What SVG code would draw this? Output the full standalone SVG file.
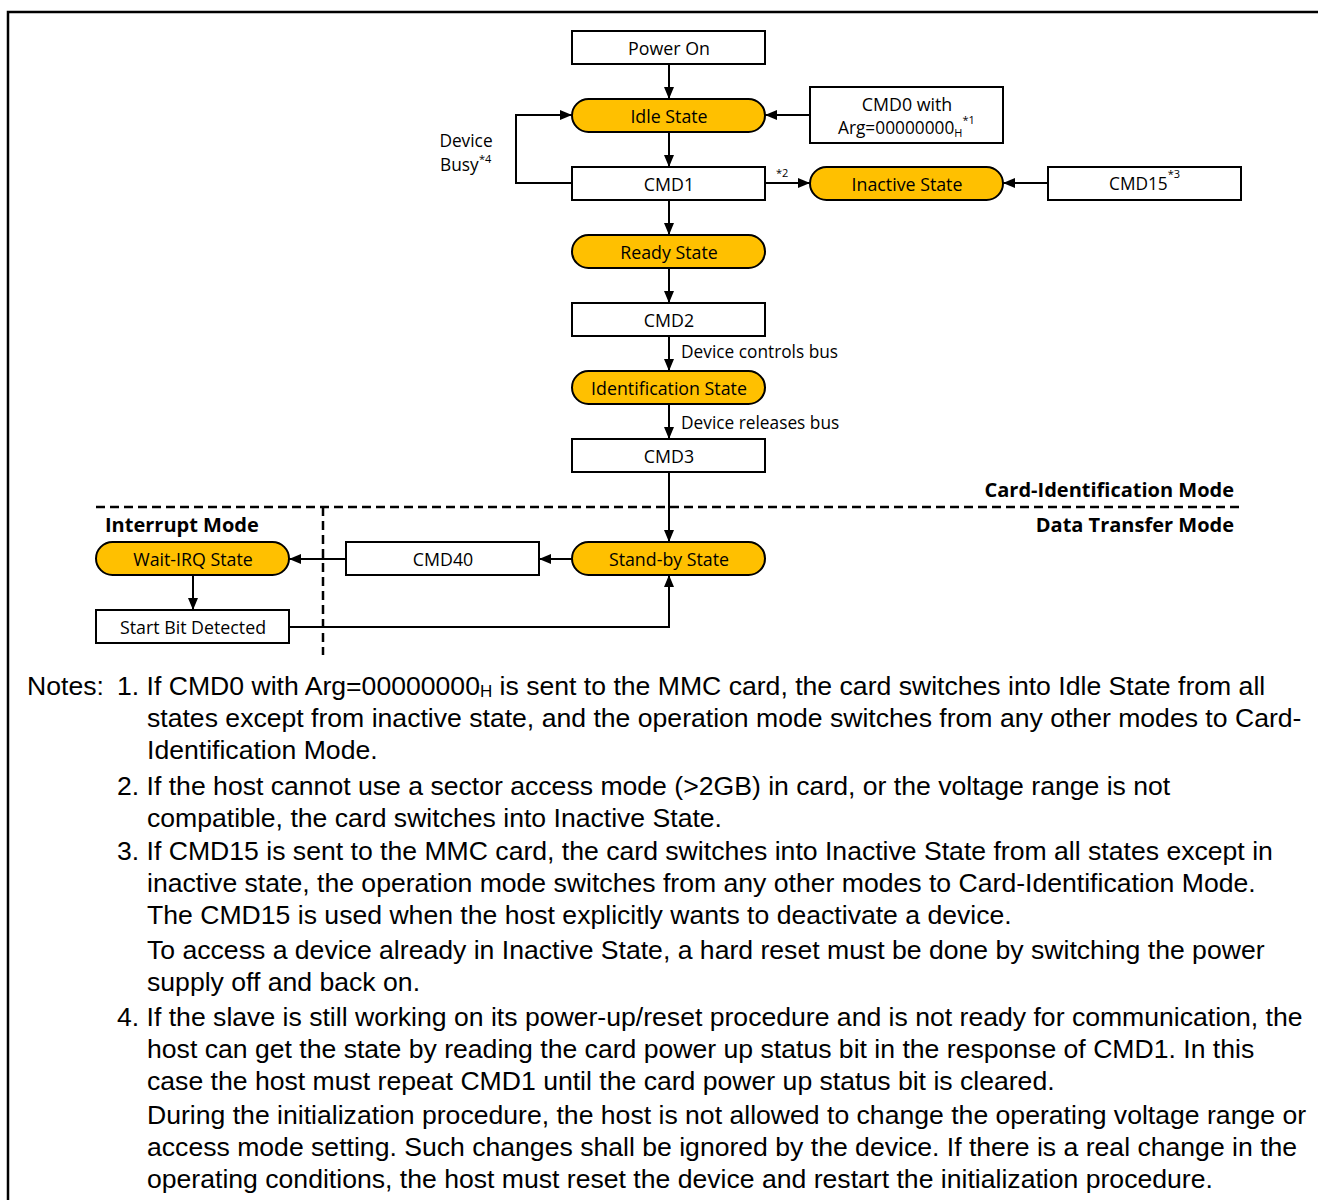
<svg xmlns="http://www.w3.org/2000/svg" width="1318" height="1200" viewBox="0 0 1318 1200">
<defs>
<marker id="ah" viewBox="0 0 12 10" refX="12" refY="5" markerWidth="12" markerHeight="10" markerUnits="userSpaceOnUse" orient="auto">
<path d="M0,0 L12,5 L0,10 z" fill="#000"/>
</marker>
</defs>
<style>
.box{fill:#fff;stroke:#000;stroke-width:2}
.st{fill:#FFC000;stroke:#000;stroke-width:2}
.lbl{font-family:"Open Sans",sans-serif;font-size:17.8px;fill:#000;text-anchor:middle;dominant-baseline:central}
.sm{font-family:"Open Sans",sans-serif;font-size:17.3px;fill:#000}
.sup{font-family:"Open Sans",sans-serif;font-size:11px;fill:#000}
.bold{font-family:"Open Sans",sans-serif;font-size:20px;font-weight:bold;fill:#000}
.con{fill:none;stroke:#000;stroke-width:2;marker-end:url(#ah)}
.dash{fill:none;stroke:#000;stroke-width:2.5;stroke-dasharray:9,5}
.note{font-family:"Liberation Sans",Arial,sans-serif;font-size:26.6px;fill:#000}
</style>
<rect x="8" y="12" width="1320" height="1200" fill="none" stroke="#000" stroke-width="2.5"/>

<g id="connectors">
<path class="con" d="M669,64 V99"/>
<path class="con" d="M669,132 V167"/>
<path class="con" d="M810,115 H765"/>
<path class="con" d="M572,183 H516 V115 H572"/>
<path class="con" d="M765,183 H810"/>
<path class="con" d="M1048,183 H1003"/>
<path class="con" d="M669,200 V235"/>
<path class="con" d="M669,268 V303"/>
<path class="con" d="M669,336 V371"/>
<path class="con" d="M669,404 V439"/>
<path class="con" d="M669,472 V542"/>
<path class="con" d="M572,559 H539"/>
<path class="con" d="M346,559 H289"/>
<path class="con" d="M193,575 V610"/>
<path class="con" d="M289,627 H669 V575"/>
</g>

<g id="mode-lines">
<path class="dash" d="M96,507 H1240"/>
<path class="dash" d="M323,507 V655"/>
</g>

<g id="edge-labels">
<text class="sm" x="466" y="147" text-anchor="middle">Device</text>
<text class="sm" x="440" y="171">Busy</text>
<text class="sup" x="479" y="163">*4</text>
<text class="sup" x="776" y="177">*2</text>
<text class="sm" x="681" y="358">Device controls bus</text>
<text class="sm" x="681" y="429">Device releases bus</text>
<text class="bold" x="1234" y="497" text-anchor="end">Card-Identification Mode</text>
<text class="bold" x="1234" y="532" text-anchor="end">Data Transfer Mode</text>
<text class="bold" x="105" y="532">Interrupt Mode</text>
</g>

<g id="power-on"><rect class="box" x="572" y="31" width="193" height="33"/><text class="lbl" x="669" y="48">Power On</text></g>
<g id="idle-state"><rect class="st" x="572" y="99" width="193" height="33" rx="16.5"/><text class="lbl" x="669" y="116">Idle State</text></g>
<g id="cmd0"><rect class="box" x="810" y="87" width="193" height="56"/><text class="lbl" x="907" y="104">CMD0 with</text><text class="sm" x="838" y="134">Arg=00000000<tspan font-size="11" dy="3">H</tspan><tspan font-size="11" dy="-13">*1</tspan></text></g>
<g id="cmd1"><rect class="box" x="572" y="167" width="193" height="33"/><text class="lbl" x="669" y="184">CMD1</text></g>
<g id="inactive-state"><rect class="st" x="810" y="167" width="193" height="33" rx="16.5"/><text class="lbl" x="907" y="184">Inactive State</text></g>
<g id="cmd15"><rect class="box" x="1048" y="167" width="193" height="33"/><text class="sm" x="1109" y="190">CMD15<tspan font-size="11" dy="-12">*3</tspan></text></g>
<g id="ready-state"><rect class="st" x="572" y="235" width="193" height="33" rx="16.5"/><text class="lbl" x="669" y="252">Ready State</text></g>
<g id="cmd2"><rect class="box" x="572" y="303" width="193" height="33"/><text class="lbl" x="669" y="320">CMD2</text></g>
<g id="identification-state"><rect class="st" x="572" y="371" width="193" height="33" rx="16.5"/><text class="lbl" x="669" y="388">Identification State</text></g>
<g id="cmd3"><rect class="box" x="572" y="439" width="193" height="33"/><text class="lbl" x="669" y="456">CMD3</text></g>
<g id="standby-state"><rect class="st" x="572" y="542" width="193" height="33" rx="16.5"/><text class="lbl" x="669" y="559">Stand-by State</text></g>
<g id="cmd40"><rect class="box" x="346" y="542" width="193" height="33"/><text class="lbl" x="443" y="559">CMD40</text></g>
<g id="wait-irq-state"><rect class="st" x="96" y="542" width="193" height="33" rx="16.5"/><text class="lbl" x="193" y="559">Wait-IRQ State</text></g>
<g id="start-bit"><rect class="box" x="96" y="610" width="193" height="33"/><text class="lbl" x="193" y="627">Start Bit Detected</text></g>

<g id="notes">
<text class="note" x="27" y="695">Notes:</text>
<text class="note" x="117" y="695">1. If CMD0 with Arg=00000000<tspan font-size="17" dy="2">H</tspan><tspan dy="-2"> is sent to the MMC card, the card switches into Idle State from all</tspan></text>
<text class="note" x="147" y="727">states except from inactive state, and the operation mode switches from any other modes to Card-</text>
<text class="note" x="147" y="759">Identification Mode.</text>
<text class="note" x="117" y="795">2. If the host cannot use a sector access mode (&gt;2GB) in card, or the voltage range is not</text>
<text class="note" x="147" y="827">compatible, the card switches into Inactive State.</text>
<text class="note" x="117" y="860">3. If CMD15 is sent to the MMC card, the card switches into Inactive State from all states except in</text>
<text class="note" x="147" y="892">inactive state, the operation mode switches from any other modes to Card-Identification Mode.</text>
<text class="note" x="147" y="924">The CMD15 is used when the host explicitly wants to deactivate a device.</text>
<text class="note" x="147" y="959">To access a device already in Inactive State, a hard reset must be done by switching the power</text>
<text class="note" x="147" y="991">supply off and back on.</text>
<text class="note" x="117" y="1026">4. If the slave is still working on its power-up/reset procedure and is not ready for communication, the</text>
<text class="note" x="147" y="1058">host can get the state by reading the card power up status bit in the response of CMD1. In this</text>
<text class="note" x="147" y="1090">case the host must repeat CMD1 until the card power up status bit is cleared.</text>
<text class="note" x="147" y="1124">During the initialization procedure, the host is not allowed to change the operating voltage range or</text>
<text class="note" x="147" y="1156">access mode setting. Such changes shall be ignored by the device. If there is a real change in the</text>
<text class="note" x="147" y="1188">operating conditions, the host must reset the device and restart the initialization procedure.</text>
</g>
</svg>
